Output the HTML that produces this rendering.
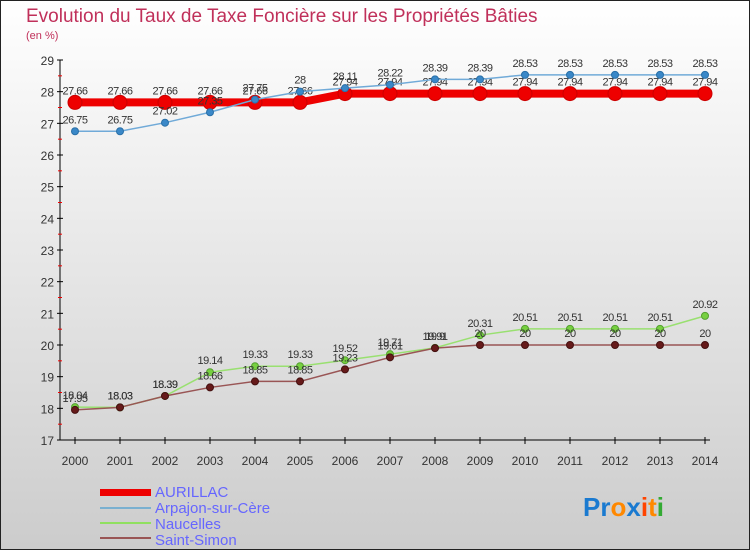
<!DOCTYPE html>
<html><head><meta charset="utf-8"><style>
body{margin:0}
#wrap{position:relative;width:750px;height:550px;overflow:hidden;background:linear-gradient(#ffffff,#cccccc);font-family:"Liberation Sans",sans-serif}
svg{position:absolute;left:0;top:0}
</style></head><body>
<div id="wrap">
<svg id="s" width="750" height="550">
<rect x="0.5" y="0.5" width="749" height="549" fill="none" stroke="#222" stroke-width="1"/>
<text x="26" y="22" font-size="19" fill="#c0305a">Evolution du Taux de Taxe Foncière sur les Propriétés Bâties</text>
<text x="26" y="39" font-size="11" fill="#c0305a">(en %)</text>
<g>
<rect x="100" y="489" width="51" height="7" fill="#ee0000"/>
<text x="155" y="497" font-size="15" fill="#6666ff">AURILLAC</text>
<rect x="100" y="507" width="51" height="2" fill="#7ab0d0"/>
<text x="155" y="513" font-size="15" fill="#6666ff">Arpajon-sur-Cère</text>
<rect x="100" y="522" width="51" height="2" fill="#90e060"/>
<text x="155" y="529" font-size="15" fill="#6666ff">Naucelles</text>
<rect x="100" y="537" width="51" height="2" fill="#995555"/>
<text x="155" y="545" font-size="15" fill="#6666ff">Saint-Simon</text>
</g>
<g font-size="26" font-weight="bold">
<text x="583" y="516"><tspan fill="#1a7ad0">Pr</tspan><tspan fill="#ff8800">o</tspan><tspan fill="#1a7ad0">x</tspan><tspan fill="#ff4400">i</tspan><tspan fill="#ff8800">t</tspan><tspan fill="#33aa33">i</tspan></text>
</g>
</svg>
</div>
<script>
const years=[2000,2001,2002,2003,2004,2005,2006,2007,2008,2009,2010,2011,2012,2013,2014];
const aurillac=[27.66,27.66,27.66,27.66,27.66,27.66,27.94,27.94,27.94,27.94,27.94,27.94,27.94,27.94,27.94];
const arpajon=[26.75,26.75,27.02,27.35,27.75,28,28.11,28.22,28.39,28.39,28.53,28.53,28.53,28.53,28.53];
const naucelles=[18.04,18.03,18.39,19.14,19.33,19.33,19.52,19.71,19.91,20.31,20.51,20.51,20.51,20.51,20.92];
const saintSimon=[17.95,18.03,18.39,18.66,18.85,18.85,19.23,19.61,19.9,20,20,20,20,20,20];
const yTicks=[17,18,19,20,21,22,23,24,25,26,27,28,29];
const NS="http://www.w3.org/2000/svg";
const svg=document.getElementById('s');
const X=i=>75+i*45;
const Y=v=>60+(29-v)*(380/12);
function mk(t,a,p){const e=document.createElementNS(NS,t);for(const k in a)e.setAttribute(k,a[k]);(p||svg).appendChild(e);return e;}
const ax=mk('g',{});


mk('line',{x1:60,y1:60,x2:60,y2:440,stroke:'#000'},ax);
mk('line',{x1:60,y1:440,x2:710,y2:440,stroke:'#000'},ax);
yTicks.forEach(v=>{
  mk('line',{x1:57,y1:Y(v),x2:63,y2:Y(v),stroke:'#000'},ax);
  if(v<29) mk('line',{x1:58,y1:Y(v+0.5),x2:62,y2:Y(v+0.5),stroke:'#e00'},ax);
  const t=mk('text',{x:54,y:Y(v)+5,'font-size':12,fill:'#333','text-anchor':'end'},ax);
  t.textContent=v;
  
  
});
years.forEach((yr,i)=>{
  mk('line',{x1:X(i),y1:437,x2:X(i),y2:444,stroke:'#000'},ax);
  const t=mk('text',{x:X(i),y:465,'font-size':12,fill:'#333','text-anchor':'middle'},ax);
  t.textContent=yr;
  
  
});
function series(vals,name,color,w,r,dot,stroke){
  const g=mk('g',{});
  
  
  mk('polyline',{points:vals.map((v,i)=>X(i)+','+Y(v)).join(' '),fill:'none',stroke:color,'stroke-width':w},g);
  vals.forEach((v,i)=>{
    const c=mk('circle',{cx:X(i),cy:Y(v),r:r,fill:dot,stroke:stroke,'stroke-width':1},g);
    
    
    const t=mk('text',{x:X(i),y:Y(v)-8,'font-size':11,fill:'#333','text-anchor':'middle','letter-spacing':'-0.5'},g);
    t.textContent=v;
    
    
  });
}
series(aurillac,'aurillac','#ee0000',8,7,'#ee0000','#cc0000');
series(arpajon,'arpajon','#70aad8',1.5,3.5,'#3a88c8','#2a70a8');
series(naucelles,'naucelles','#99e070',1.5,3.5,'#77d040','#55a030');
series(saintSimon,'saint-simon','#995555',1.5,3.5,'#661a1a','#441010');
</script>
</body></html>
